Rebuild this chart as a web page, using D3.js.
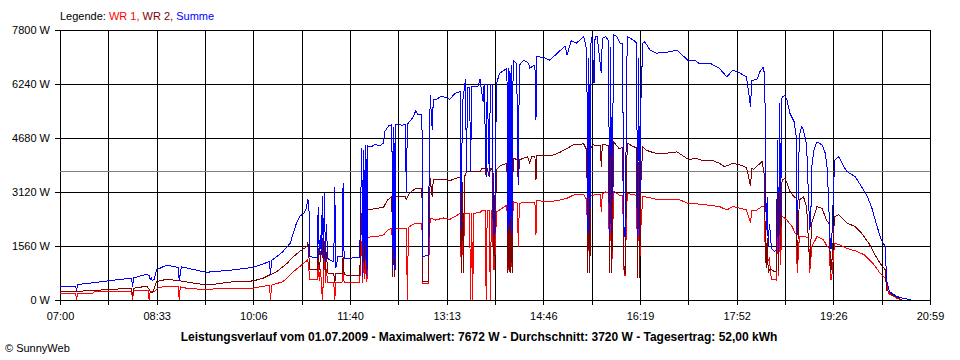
<!DOCTYPE html>
<html>
<head>
<meta charset="utf-8">
<script src="https://cdn.jsdelivr.net/npm/d3@7"></script>
<style>
  body { margin: 0; background: #fff; }
  text { font-family: "Liberation Sans", Arial, sans-serif; font-size: 11px; fill: #000; }
</style>
</head>
<body>
<svg id="chart" width="960" height="360"></svg>
<script>
// time labels on the x axis (every second grid line)
var xLabels = ["07:00", "08:33", "10:06", "11:40", "13:13", "14:46", "16:19", "17:52", "19:26", "20:59"];
var yTicks = [0, 1560, 3120, 4680, 6240, 7800];
var average = 3720;

// WR 1 (red)
var wr1 = [["07:00",200],["07:15",200],["07:16",0],["07:17",200],["07:32",200],["07:33",240],["08:09",260],["08:10",0],["08:11",260],
  ["08:25",270],["08:26",0],["08:27",250],["08:31",240],["08:34",340],["08:41",400],["08:54",390],["08:55",0],["08:56",380],["09:02",340],
  ["09:15",310],["09:47",330],["10:06",340],["10:22",430],["10:23",0],["10:24",430],["10:35",530],["10:42",720],["10:45",820],["10:51",960],
  ["10:55",1060],["10:59",1160],["11:01",580],["11:08",580],["11:09",1000],["11:10",560],["11:11",900],["11:12",560],["11:13",0],["11:14",560],
  ["11:15",1350],["11:16",500],["11:17",900],["11:18",500],["11:24",500],["11:25",0],["11:26",500],["11:32",520],["11:33",1100],["11:34",500],
  ["11:49",500],["11:51",1700],["11:52",500],["11:53",1750],["11:54",600],["11:55",1780],["11:56",520],["11:57",1800],["12:00",1830],
  ["12:08",1850],["12:12",1880],["12:16",2020],["12:20",2070],["12:21",1060],["12:22",2050],["12:23",1060],["12:24",2070],["12:34",2070],
  ["12:35",0],["12:36",2100],["12:37",2120],["12:43",2220],["12:49",2220],["12:50",480],["12:55",480],["12:57",2370],["13:02",2310],
  ["13:10",2370],["13:16",2330],["13:26",2500],["13:27",770],["13:28",2300],["13:29",770],["13:30",2500],["13:35",2500],["13:36",0],
  ["13:37",2510],["13:38",0],["13:39",2510],["13:45",2520],["13:47",2600],["13:50",2600],["13:51",0],["13:52",2600],["13:54",2600],
  ["13:55",0],["13:56",2580],["13:57",2570],["13:58",870],["13:59",870],["14:01",2550],["14:04",2600],["14:11",2740],["14:12",770],
  ["14:13",2700],["14:14",770],["14:15",2750],["14:16",770],["14:17",2840],["14:21",2800],["14:22",1540],["14:23",2800],["14:31",2810],
  ["14:38",2820],["14:39",1880],["14:40",2870],["14:50",2840],["15:00",2870],["15:09",2940],["15:15",3030],["15:25",3060],["15:28",2890],
  ["15:29",1060],["15:30",2900],["15:31",1060],["15:32",3000],["15:34",3030],["15:41",3050],["15:42",2550],["15:43",3060],["15:46",3120],
  ["15:49",3100],["15:50",770],["15:51",3000],["15:52",770],["15:54",3140],["16:00",3020],["16:02",3030],["16:03",2460],["16:04",720],
  ["16:05",720],["16:07",3080],["16:15",3030],["16:16",3020],["16:17",870],["16:18",2800],["16:19",870],["16:20",2000],["16:22",3000],
  ["16:29",2950],["16:38",2890],["16:58",2890],["17:06",2790],["17:17",2770],["17:36",2700],["17:43",2600],["17:49",2700],["18:02",2600],
  ["18:06",2220],["18:07",2590],["18:12",2600],["18:17",2700],["18:19",2710],["18:20",1540],["18:21",1200],["18:22",1100],["18:24",1200],
  ["18:26",580],["18:28",580],["18:30",600],["18:31",580],["18:32",2220],["18:33",700],["18:34",2410],["18:35",1000],["18:36",2410],
  ["18:37",2410],["18:41",2310],["18:46",2120],["18:49",1930],["18:50",1900],["18:51",770],["18:53",1830],["18:58",1830],["19:02",1800],
  ["19:03",770],["19:05",1540],["19:10",1830],["19:16",1750],["19:20",1540],["19:22",1500],["19:23",580],["19:24",580],["19:27",1640],
  ["19:32",1590],["19:39",1490],["19:47",1420],["19:56",1300],["20:04",1060],["20:11",770],["20:16",630],["20:19",190],["20:27",50],["20:32",0]];

// WR 2 (dark red)
var wr2 = [["07:00",240],["07:16",250],["07:40",290],["08:09",340],["08:10",100],["08:11",340],["08:24",400],["08:26",300],["08:28",200],
  ["08:30",250],["08:33",530],["08:43",600],["08:54",560],["09:15",460],["09:30",460],["09:47",530],["10:06",550],["10:16",630],["10:22",720],
  ["10:29",820],["10:39",1060],["10:45",1250],["10:51",1400],["10:58",1540],["10:59",1680],["11:01",870],["11:08",870],["11:09",1500],
  ["11:10",880],["11:13",1790],["11:14",900],["11:15",1700],["11:16",800],["11:17",1400],["11:18",780],["11:24",770],["11:25",500],
  ["11:26",780],["11:32",780],["11:33",1250],["11:34",760],["11:36",720],["11:49",720],["11:51",2500],["11:52",670],["11:53",2550],
  ["11:54",900],["11:55",2600],["11:56",700],["11:57",2600],["12:00",2620],["12:06",2650],["12:12",2680],["12:16",2890],["12:20",2980],
  ["12:21",670],["12:22",2950],["12:23",670],["12:24",2990],["12:33",3000],["12:34",2900],["12:37",3080],["12:43",3230],["12:49",3230],
  ["12:50",530],["12:55",530],["12:57",3520],["12:59",2980],["13:00",3480],["13:02",3470],["13:10",3490],["13:16",3450],["13:26",3560],
  ["13:27",770],["13:28",3400],["13:29",770],["13:30",3550],["13:32",3710],["13:45",3710],["13:47",3800],["13:50",3800],["13:51",3560],
  ["13:52",3800],["13:54",3560],["13:55",3790],["13:57",3780],["13:58",1300],["13:59",1300],["14:01",3760],["14:04",3870],["14:11",3950],
  ["14:12",770],["14:13",3900],["14:14",770],["14:15",3950],["14:16",770],["14:17",4090],["14:21",4060],["14:22",3320],["14:23",4050],
  ["14:31",4140],["14:33",3950],["14:35",4150],["14:38",4150],["14:39",3470],["14:40",4190],["14:50",4160],["14:56",4190],["15:03",4280],
  ["15:09",4380],["15:15",4480],["15:25",4510],["15:28",4330],["15:29",770],["15:30",4300],["15:31",770],["15:32",4400],["15:34",4480],
  ["15:41",4450],["15:42",3850],["15:43",4480],["15:46",4480],["15:49",4450],["15:50",770],["15:51",4200],["15:52",770],["15:54",4570],
  ["15:59",4380],["16:02",4400],["16:03",3370],["16:04",770],["16:05",770],["16:07",4530],["16:13",4430],["16:16",4400],["16:17",630],
  ["16:18",4000],["16:19",630],["16:20",3300],["16:22",4430],["16:25",4330],["16:32",4260],["16:38",4220],["16:45",4240],["16:55",4280],
  ["17:01",4160],["17:06",4060],["17:14",4090],["17:20",4020],["17:30",4020],["17:36",3950],["17:41",3850],["17:49",3950],["17:56",3900],
  ["18:02",3830],["18:06",3290],["18:07",3800],["18:09",3780],["18:17",4000],["18:19",3660],["18:20",2120],["18:21",920],["18:22",1800],
  ["18:23",800],["18:25",900],["18:29",820],["18:31",850],["18:32",2980],["18:33",850],["18:34",3370],["18:35",1500],["18:36",3370],
  ["18:37",3470],["18:39",3520],["18:41",3380],["18:44",3130],["18:48",2980],["18:50",2950],["18:51",1110],["18:53",2890],["18:57",2980],
  ["19:00",2700],["19:03",1010],["19:05",2220],["19:10",2700],["19:15",2650],["19:19",2310],["19:22",2200],["19:23",820],["19:24",920],
  ["19:27",2410],["19:31",2460],["19:39",2220],["19:47",2120],["19:53",1930],["20:00",1640],["20:06",1300],["20:12",1010],["20:16",870],
  ["20:17",290],["20:24",120],["20:32",0]];

// Summe (blue)
var summe = [["07:00",400],["07:15",400],["07:16",260],["07:17",450],["07:30",490],["07:48",560],["08:00",600],["08:09",630],["08:10",370],
  ["08:11",640],["08:24",750],["08:26",700],["08:27",580],["08:28",650],["08:29",560],["08:31",600],["08:33",870],["08:43",1010],["08:54",940],
  ["08:55",560],["08:57",960],["09:21",800],["09:47",870],["10:06",940],["10:22",1110],["10:23",720],["10:24",1140],["10:29",1250],
  ["10:35",1400],["10:42",1640],["10:48",2220],["10:51",2410],["10:55",2500],["10:57",2600],["10:59",2890],["11:00",2800],["11:01",1250],
  ["11:08",1220],["11:09",2700],["11:10",1300],["11:11",1880],["11:12",1300],["11:13",3000],["11:14",1250],["11:15",3080],["11:16",1100],
  ["11:17",2200],["11:18",1200],["11:21",1150],["11:24",1100],["11:25",3270],["11:26",920],["11:28",1250],["11:32",1250],["11:33",3390],
  ["11:34",1200],["11:36",1200],["11:49",1230],["11:51",4380],["11:52",670],["11:53",4330],["11:54",1160],["11:55",4480],["11:56",700],
  ["11:57",4450],["12:00",4420],["12:04",4500],["12:08",4450],["12:12",4530],["12:13",4860],["12:17",5030],["12:20",5060],["12:21",870],
  ["12:22",5000],["12:23",870],["12:24",5070],["12:30",5050],["12:33",5080],["12:34",3080],["12:35",5080],["12:37",5150],["12:41",5300],
  ["12:43",5470],["12:45",5370],["12:49",5370],["12:50",1250],["12:55",1300],["12:57",5920],["12:59",4910],["13:00",5800],["13:02",5780],
  ["13:08",5890],["13:16",5800],["13:21",5970],["13:26",6020],["13:27",2020],["13:28",5630],["13:31",6380],["13:32",3710],["13:33",6140],
  ["13:35",6140],["13:36",3710],["13:37",6160],["13:43",6160],["13:45",6380],["13:48",5730],["13:49",6230],["13:51",3560],["13:52",6230],
  ["13:54",3560],["13:55",6230],["13:57",6200],["13:58",1880],["13:59",1900],["14:01",6260],["14:04",6550],["14:11",6690],["14:12",1940],
  ["14:13",6700],["14:14",1940],["14:15",6800],["14:16",1940],["14:17",6930],["14:20",6840],["14:21",5630],["14:22",3380],["14:23",6780],
  ["14:27",6930],["14:32",6840],["14:33",6700],["14:38",6790],["14:39",5200],["14:40",7030],["14:46",7010],["14:52",6930],["14:59",7110],
  ["15:07",7340],["15:09",7080],["15:13",7490],["15:18",7420],["15:25",7610],["15:28",7220],["15:29",1940],["15:30",7000],["15:31",1940],
  ["15:32",7400],["15:33",7610],["15:35",6270],["15:36",7600],["15:38",7610],["15:42",6560],["15:43",7550],["15:46",7610],["15:49",7500],
  ["15:50",1930],["15:51",7300],["15:52",1930],["15:54",7660],["15:57",7610],["16:00",7420],["16:02",7400],["16:03",5300],["16:04",1830],
  ["16:05",1850],["16:07",7610],["16:13",7510],["16:16",7420],["16:17",1850],["16:18",7000],["16:19",1850],["16:20",5550],["16:22",7420],
  ["16:24",7460],["16:29",7220],["16:35",7130],["16:42",7150],["16:48",7170],["16:55",7220],["17:01",7050],["17:06",6910],["17:12",6930],
  ["17:17",6820],["17:27",6840],["17:36",6690],["17:43",6450],["17:49",6640],["17:56",6550],["18:02",6450],["18:06",5580],["18:07",6350],
  ["18:12",6360],["18:15",6600],["18:18",6720],["18:19",6590],["18:20",5580],["18:21",2020],["18:22",2980],["18:23",1540],["18:24",2200],
  ["18:25",1930],["18:26",1500],["18:29",1400],["18:31",1440],["18:32",4620],["18:33",1440],["18:34",5700],["18:35",2400],["18:36",5830],
  ["18:37",5870],["18:39",5920],["18:41",5780],["18:44",5390],["18:48",5150],["18:50",4720],["18:51",1880],["18:53",4720],["18:55",5010],
  ["18:57",4910],["19:00",4480],["19:03",2020],["19:04",2310],["19:05",3850],["19:07",4330],["19:10",4570],["19:15",4480],["19:18",4240],
  ["19:20",3760],["19:23",1490],["19:24",1500],["19:27",4040],["19:31",4140],["19:35",3900],["19:39",3710],["19:47",3560],["19:53",3270],
  ["19:58",3030],["20:03",2650],["20:08",2120],["20:12",1730],["20:16",1540],["20:17",580],["20:20",240],["20:27",100],["20:33",50],["20:41",0]];

function toMin(s)
{
  var p = s.split(':');
  return (+p[0]) * 60 + (+p[1]);
}

var svg = d3.select('#chart');
var plotLeft = 60, plotRight = 930, plotTop = 30, plotBottom = 300;

var x = d3.scaleLinear().domain([toMin(xLabels[0]), toMin(xLabels[xLabels.length - 1])]).range([plotLeft, plotRight]);
var y = d3.scaleLinear().domain([0, 7800]).range([plotBottom, plotTop]);

// one grid line between two labels
var t0 = toMin(xLabels[0]), t1 = toMin(xLabels[xLabels.length - 1]);
var gridTimes = d3.range(19).map(function (i) { return t0 + i * (t1 - t0) / 18; });

/*

  AXES AND GRID

*/
var yAxis = d3.axisLeft(y)
  .tickValues(yTicks)
  .tickSize(-(plotRight - plotLeft + 5))
  .tickPadding(5)
  .tickFormat(function (d) { return d + ' W'; });

svg.append('g')
  .attr('transform', 'translate(' + (plotLeft - 5) + ',0)')
  .call(yAxis)
  .call(function (g) { g.select('.domain').remove(); });

var xAxis = d3.axisBottom(x)
  .tickValues(gridTimes)
  .tickSize(-(plotBottom - plotTop + 5))
  .tickPadding(7)
  .tickFormat(function (d, i) { return i % 2 === 0 ? xLabels[i / 2] : ''; });

svg.append('g')
  .attr('transform', 'translate(0,' + (plotBottom + 5) + ')')
  .call(xAxis)
  .call(function (g) { g.select('.domain').remove(); });

svg.selectAll('.tick line')
  .attr('stroke', '#000')
  .attr('shape-rendering', 'crispEdges');
svg.selectAll('.tick text')
  .attr('fill', '#000')
  .style('font-family', '"Liberation Sans", Arial, sans-serif')
  .style('font-size', '11px');

// average line
svg.append('line')
  .attr('x1', plotLeft).attr('x2', plotRight)
  .attr('y1', y(average)).attr('y2', y(average))
  .attr('stroke', '#808080')
  .attr('shape-rendering', 'crispEdges');

/*

  SERIES

*/
var line = d3.line()
  .x(function (d) { return x(toMin(d[0])); })
  .y(function (d) { return y(d[1]); });

[[wr1, '#ff0000'], [wr2, '#800000'], [summe, '#0000ff']].forEach(function (s) {
  svg.append('path')
    .datum(s[0])
    .attr('d', line)
    .attr('fill', 'none')
    .attr('stroke', s[1])
    .attr('stroke-width', 1)
    .attr('shape-rendering', 'crispEdges');
});

//LEGEND
var legend = svg.append('text').attr('x', plotLeft).attr('y', 20);
legend.append('tspan').text('Legende: ');
legend.append('tspan').style('fill', '#ff0000').text('WR 1, ');
legend.append('tspan').style('fill', '#800000').text('WR 2, ');
legend.append('tspan').style('fill', '#0000ff').text('Summe');

//TITLE
svg.append('text')
  .attr('x', 479).attr('y', 341)
  .attr('text-anchor', 'middle')
  .style('font-weight', 'bold')
  .style('font-size', '12px')
  .text('Leistungsverlauf vom 01.07.2009 - Maximalwert: 7672 W - Durchschnitt: 3720 W - Tagesertrag: 52,00 kWh');

svg.append('text')
  .attr('x', 5).attr('y', 352)
  .text('\u00a9 SunnyWeb');
</script>
</body>
</html>
